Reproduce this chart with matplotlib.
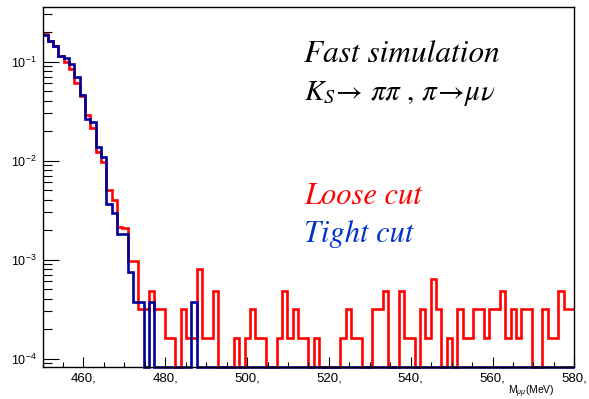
import numpy as np
import matplotlib
matplotlib.use("Agg")
import matplotlib.pyplot as plt
from matplotlib.ticker import MultipleLocator, FuncFormatter, LogLocator, NullFormatter

plt.rcParams['font.family'] = ['Liberation Sans', 'DejaVu Sans']
plt.rcParams['mathtext.fontset'] = 'custom'
plt.rcParams['mathtext.rm'] = 'Liberation Sans'
plt.rcParams['mathtext.it'] = 'Liberation Sans:italic'

# histogram binning: 100 bins from 450 to 580 MeV
x_lo, x_hi, n_bins = 450, 580, 100
edges = np.linspace(x_lo, x_hi, n_bins + 1)

# one-entry heights of the two normalised histograms
unit_loose = 1.6e-4
unit_tight = 3.75e-4

# first 16 bins, read as fractions
loose_head = [0.19, 0.16, 0.145, 0.114, 0.100, 0.085, 0.060, 0.045, 0.029, 0.0214,
              0.0123, 0.0097, 0.00503, 0.0040, 0.00214, 0.00206]
tight_head = [0.185, 0.161, 0.145, 0.114, 0.108, 0.094, 0.070, 0.046, 0.026, 0.0247,
              0.0138, 0.0109, 0.00361, 0.00293, 0.00181, 0.00181]

# bins 16..99, read as entries
loose_tail = [6, 6, 2, 2, 3, 2, 2, 1, 1, 0,
              2, 1, 1, 5, 1, 1, 3, 0, 0, 0,
              1, 0, 1, 2, 1, 1, 0, 0, 1, 3,
              1, 2, 1, 1, 0, 1, 0, 0, 0, 0,
              1, 2, 1, 1, 0, 0, 2, 2, 3, 0,
              0, 3, 1, 1, 0, 2, 1, 4, 2, 0,
              1, 0, 2, 1, 1, 2, 2, 1, 2, 2,
              3, 1, 2, 1, 2, 2, 0, 0, 2, 1,
              1, 3, 2, 2]
tight_tail = [2, 1, 1, 0, 1, 0, 0, 0, 0, 0,
              0, 0, 1] + [0] * 71

loose = np.concatenate([loose_head, np.array(loose_tail) * unit_loose])
tight = np.concatenate([tight_head, np.array(tight_tail) * unit_tight])

y_lo, y_hi = 8.15e-5, 0.353

fig = plt.figure(figsize=(5.89, 3.99), dpi=100)
ax = fig.add_axes([0.0722, 0.0794, 0.903, 0.9023])

# empty bins sit on the bottom of the frame, like ROOT does on a log axis
ax.stairs(np.clip(loose, y_lo, None), edges, baseline=None, color='#ff0000', lw=1.9, clip_on=False)
ax.stairs(np.clip(tight, y_lo, None), edges, baseline=None, color='#000099', lw=1.9, clip_on=False)

ax.set_yscale('log')
ax.set_xlim(x_lo, x_hi)
ax.set_ylim(y_lo, y_hi)

ax.xaxis.set_major_locator(MultipleLocator(20))
ax.xaxis.set_minor_locator(MultipleLocator(5))
ax.xaxis.set_major_formatter(FuncFormatter(lambda v, p: f"{v:.0f},"))
ax.yaxis.set_major_locator(LogLocator(base=10))
ax.yaxis.set_minor_locator(LogLocator(base=10, subs=np.arange(2, 10)))
ax.yaxis.set_minor_formatter(NullFormatter())

ax.tick_params(axis='both', which='both', direction='in', top=False, right=False, width=0.8)
ax.tick_params(axis='x', which='major', length=7.2, labelsize=9.5, pad=4)
ax.tick_params(axis='x', which='minor', length=3.6)
ax.tick_params(axis='y', which='major', length=11.5, labelsize=9, pad=4)
ax.tick_params(axis='y', which='minor', length=6.5)
for s in ax.spines.values():
    s.set_linewidth(1.0)

fig.text(555 / 589, 1 - 394 / 399, r"M$_{\mu\mu}$(MeV)", ha='right', va='baseline', fontsize=7.5)

serif = dict(family='STIXGeneral', style='italic', math_fontfamily='stix')
fig.text(304 / 589, 1 - 62 / 399, "Fast simulation", color='black', fontsize=22.5, **serif)
fig.text(304 / 589, 1 - 100 / 399, r"$K_S\!\rightarrow\,\pi\pi\ ,\,\pi\!\rightarrow\!\mu\nu$",
         color='black', fontsize=21, **serif)
fig.text(304 / 589, 1 - 204 / 399, "Loose cut", color='#ff0000', fontsize=22, **serif)
fig.text(304 / 589, 1 - 242 / 399, "Tight cut", color='#0033cc', fontsize=22, **serif)

fig.savefig("out.png", dpi=100)
